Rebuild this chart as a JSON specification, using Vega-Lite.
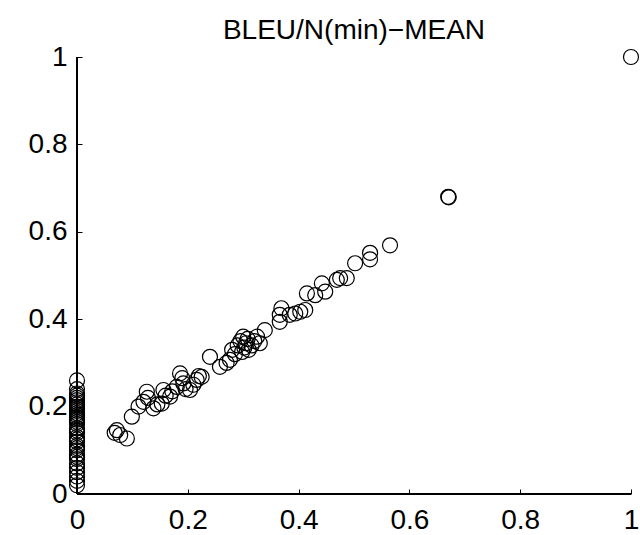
{
  "$schema": "https://vega.github.io/schema/vega-lite/v6.json",
  "autosize": "none",
  "width": 554,
  "height": 437,
  "padding": {"left": 77, "top": 57, "right": 9, "bottom": 41},
  "background": "white",
  "config": {
    "view": {"stroke": null},
    "font": "Liberation Sans"
  },
  "title": {"text": "BLEU/N(min)−MEAN", "font": "Liberation Sans", "fontSize": 28, "fontWeight": "normal", "color": "black", "offset": -2, "anchor": "middle"},
  "data": {"values": [
    {"x": 0, "y": 0.02}, {"x": 0, "y": 0.03}, {"x": 0, "y": 0.04}, {"x": 0, "y": 0.05}, {"x": 0, "y": 0.06},
    {"x": 0, "y": 0.07}, {"x": 0, "y": 0.08}, {"x": 0, "y": 0.085}, {"x": 0, "y": 0.09}, {"x": 0, "y": 0.1},
    {"x": 0, "y": 0.105}, {"x": 0, "y": 0.11}, {"x": 0, "y": 0.12}, {"x": 0, "y": 0.125}, {"x": 0, "y": 0.13},
    {"x": 0, "y": 0.14}, {"x": 0, "y": 0.145}, {"x": 0, "y": 0.15}, {"x": 0, "y": 0.16}, {"x": 0, "y": 0.165},
    {"x": 0, "y": 0.17}, {"x": 0, "y": 0.175}, {"x": 0, "y": 0.18}, {"x": 0, "y": 0.185}, {"x": 0, "y": 0.19},
    {"x": 0, "y": 0.195}, {"x": 0, "y": 0.2}, {"x": 0, "y": 0.205}, {"x": 0, "y": 0.21}, {"x": 0, "y": 0.215},
    {"x": 0, "y": 0.22}, {"x": 0, "y": 0.225}, {"x": 0, "y": 0.23}, {"x": 0, "y": 0.24}, {"x": 0, "y": 0.26},
    {"x": 0.072, "y": 0.146}, {"x": 0.078, "y": 0.135}, {"x": 0.09, "y": 0.127}, {"x": 0.068, "y": 0.14},
    {"x": 0.099, "y": 0.177}, {"x": 0.111, "y": 0.2}, {"x": 0.12, "y": 0.211}, {"x": 0.126, "y": 0.234},
    {"x": 0.128, "y": 0.22}, {"x": 0.138, "y": 0.196}, {"x": 0.145, "y": 0.205}, {"x": 0.153, "y": 0.207},
    {"x": 0.156, "y": 0.238}, {"x": 0.16, "y": 0.225}, {"x": 0.168, "y": 0.223}, {"x": 0.172, "y": 0.235},
    {"x": 0.18, "y": 0.245}, {"x": 0.186, "y": 0.276}, {"x": 0.19, "y": 0.265}, {"x": 0.192, "y": 0.253},
    {"x": 0.196, "y": 0.24}, {"x": 0.204, "y": 0.238}, {"x": 0.21, "y": 0.25}, {"x": 0.216, "y": 0.261},
    {"x": 0.22, "y": 0.27}, {"x": 0.225, "y": 0.268}, {"x": 0.24, "y": 0.314}, {"x": 0.258, "y": 0.291},
    {"x": 0.27, "y": 0.3}, {"x": 0.276, "y": 0.307}, {"x": 0.28, "y": 0.33}, {"x": 0.285, "y": 0.32},
    {"x": 0.29, "y": 0.34}, {"x": 0.295, "y": 0.35}, {"x": 0.3, "y": 0.36}, {"x": 0.302, "y": 0.335},
    {"x": 0.305, "y": 0.345}, {"x": 0.308, "y": 0.355}, {"x": 0.31, "y": 0.33}, {"x": 0.315, "y": 0.34},
    {"x": 0.32, "y": 0.35}, {"x": 0.325, "y": 0.36}, {"x": 0.298, "y": 0.325}, {"x": 0.33, "y": 0.345},
    {"x": 0.339, "y": 0.375}, {"x": 0.366, "y": 0.394}, {"x": 0.366, "y": 0.41}, {"x": 0.369, "y": 0.425},
    {"x": 0.384, "y": 0.41}, {"x": 0.394, "y": 0.413}, {"x": 0.403, "y": 0.417}, {"x": 0.412, "y": 0.421},
    {"x": 0.415, "y": 0.459}, {"x": 0.43, "y": 0.455}, {"x": 0.442, "y": 0.482}, {"x": 0.448, "y": 0.463},
    {"x": 0.469, "y": 0.49}, {"x": 0.475, "y": 0.494}, {"x": 0.487, "y": 0.494}, {"x": 0.502, "y": 0.528},
    {"x": 0.529, "y": 0.537}, {"x": 0.529, "y": 0.552}, {"x": 0.565, "y": 0.569},
    {"x": 0.67, "y": 0.68}, {"x": 0.671, "y": 0.679}, {"x": 1, "y": 1}
  ]},
  "layer": [
    {
      "mark": {"type": "point", "shape": "circle", "filled": false, "size": 225, "stroke": "black", "strokeWidth": 1.2, "opacity": 1},
      "encoding": {
        "x": {"field": "x", "type": "quantitative", "scale": {"domain": [0, 1], "nice": false, "zero": false},
          "axis": {"title": null, "values": [0, 0.2, 0.4, 0.6, 0.8, 1], "grid": false, "domain": false, "ticks": true, "tickColor": "black", "tickWidth": 1, "tickSize": -5, "labelFlush": false, "labelColor": "black", "labelFont": "Liberation Sans", "labelFontSize": 28, "labelPadding": 17, "labelExpr": "datum.value == 0 ? '0' : datum.value == 1 ? '1' : format(datum.value, '.1f')"}},
        "y": {"field": "y", "type": "quantitative", "scale": {"domain": [0, 1], "nice": false, "zero": false},
          "axis": {"title": null, "values": [0, 0.2, 0.4, 0.6, 0.8, 1], "grid": false, "domain": false, "ticks": true, "tickColor": "black", "tickWidth": 1, "tickSize": -5, "labelFlush": false, "labelColor": "black", "labelFont": "Liberation Sans", "labelFontSize": 28, "labelPadding": 15, "labelExpr": "datum.value == 0 ? '0' : datum.value == 1 ? '1' : format(datum.value, '.1f')"}}
      }
    },
    {
      "mark": {"type": "rule", "color": "black", "strokeWidth": 1},
      "encoding": {"x": {"datum": 0, "type": "quantitative"}, "y": {"datum": 0, "type": "quantitative"}, "y2": {"datum": 1}}
    },
    {
      "mark": {"type": "rule", "color": "black", "strokeWidth": 1},
      "encoding": {"y": {"datum": 0, "type": "quantitative"}, "x": {"datum": 0, "type": "quantitative"}, "x2": {"datum": 1}}
    }
  ]
}
